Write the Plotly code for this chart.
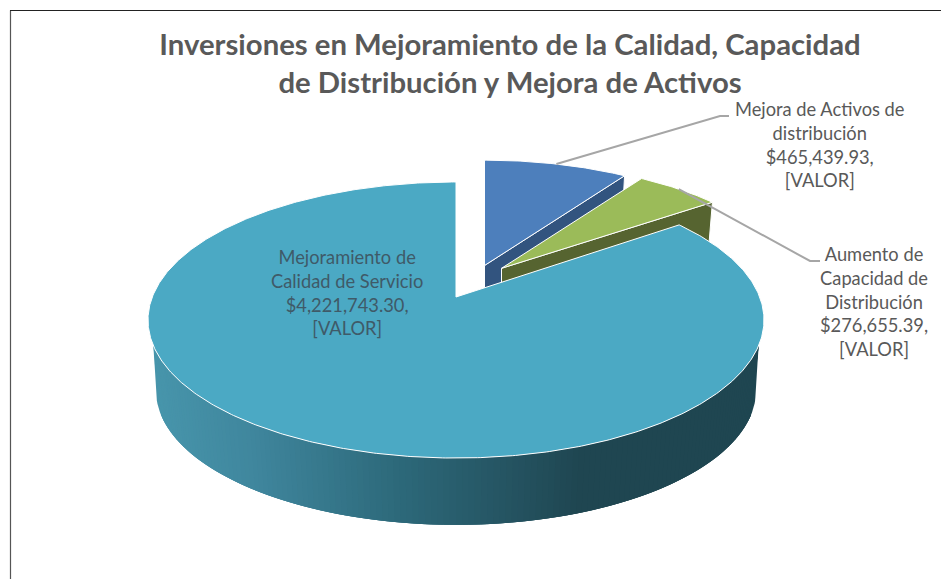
import numpy as np
import plotly.graph_objects as go

# ---- data ----
categories = ["Mejora de Activos de<br>distribución", "Aumento de<br>Capacidad de<br>Distribución", "Mejoramiento de<br>Calidad de Servicio"]
values = [465439.93, 276655.39, 4221743.30]
value_tag = "[VALOR]"
title_lines = ["Inversiones en Mejoramiento de la Calidad, Capacidad", "de Distribución y Mejora de Activos"]

top_colors = ["#4d7fbc", "#9bbb59", "#4ba9c4"]
wall_colors = ["#32547f", "#566430"]
text_grey = "#595959"

# ---- projection of the tilted pie ----
K = 0.1667
A = 303.7
B = 134.2
MAIN_APEX = (456.0, 297.0)
MAIN_APEX_LOW = (456.0, 368.0)
LOW_SCALE = 0.974
EXPL_SX, EXPL_SY = 0.945, 0.916
EXPL_APEX = [(484.5, 265.5), (501.5, 268.3)]
EXPL_DEPTH = 65.0


def rim(theta_deg, apex, sx=1.0, sy=1.0):
    t = np.radians(theta_deg)
    X, Y = np.sin(t), np.cos(t)
    w = 1 + K * Y
    return apex[0] + sx * A * X / w, apex[1] - sy * B * Y / w


total = sum(values)
edges = np.concatenate([[0], np.cumsum(values) / total * 360])

fig = go.Figure()


def poly(xs, ys, fill, line="white", lw=1.0):
    fig.add_trace(go.Scatter(x=list(xs), y=list(ys), mode="lines", fill="toself", fillcolor=fill,
                             line=dict(color=line, width=lw), hoverinfo="skip", showlegend=False))


def wedge(a0, a1, apex, sx, sy, color):
    th = np.linspace(a0, a1, max(8, int(a1 - a0) * 2))
    x, y = rim(th, apex, sx, sy)
    poly(np.r_[apex[0], x, apex[0]], np.r_[apex[1], y, apex[1]], color)


def edge_wall(theta, apex, color):
    low = (apex[0], apex[1] + EXPL_DEPTH)
    x0, y0 = rim(theta, apex, EXPL_SX, EXPL_SY)
    x1, y1 = rim(theta, low, EXPL_SX * LOW_SCALE, EXPL_SY * LOW_SCALE)
    poly([apex[0], x0, x1, low[0], apex[0]], [apex[1], y0, y1, low[1], apex[1]], color)


# exploded slices: wall first, then top face
edge_wall(edges[1], EXPL_APEX[0], wall_colors[0])
wedge(edges[0], edges[1], EXPL_APEX[0], EXPL_SX, EXPL_SY, top_colors[0])
edge_wall(edges[2], EXPL_APEX[1], wall_colors[1])
wedge(edges[1], edges[2], EXPL_APEX[1], EXPL_SX, EXPL_SY, top_colors[1])

# main slice: shaded outer wall
shade_x = [150, 250, 400, 500, 585, 770]
shade_r = [72, 64, 45, 38, 31, 31]
shade_g = [150, 135, 105, 86, 70, 70]
shade_b = [172, 158, 122, 100, 81, 81]


def shade(x):
    return "rgb(%d,%d,%d)" % (np.interp(x, shade_x, shade_r), np.interp(x, shade_x, shade_g), np.interp(x, shade_x, shade_b))


SIL_TOP, SIL_LOW = 110.0, 99.4  # silhouette angles on the top and bottom rims (from the front-right side)
# end caps between the two silhouette angles
for a_top, a_low in [(SIL_TOP, SIL_LOW), (360 - SIL_TOP, 360 - SIL_LOW)]:
    lows = np.linspace(a_low, a_top + (1 if a_top < 180 else -1) * 2, 12)
    xl, yl = rim(lows, MAIN_APEX_LOW, LOW_SCALE, LOW_SCALE)
    xt, yt = rim(a_top + (1 if a_top < 180 else -1) * 2, MAIN_APEX)
    xs, ys = rim(a_top, MAIN_APEX)
    c = shade(float(np.mean(xl)))
    poly(np.r_[xs, xl, xt, xs], np.r_[ys, yl, yt, ys], c, line=c, lw=0)

# strips run left to right, each overlapping the next to hide seams
th = np.linspace(360 - SIL_TOP, SIL_TOP, 141)
for i in range(len(th) - 1):
    a, b = th[i], th[i + 1]
    bb = max(b - 2.0, SIL_TOP)
    tha = np.linspace(a, bb, 5)
    xt, yt = rim(tha, MAIN_APEX)
    xl, yl = rim(tha[::-1], MAIN_APEX_LOW, LOW_SCALE, LOW_SCALE)
    c = shade(float(rim((a + b) / 2, MAIN_APEX)[0]))
    poly(np.r_[xt, xl, xt[0]], np.r_[yt, yl, yt[0]], c, line=c, lw=0)

wedge(edges[2], edges[3], MAIN_APEX, 1, 1, top_colors[2])

# leader lines from the slices' mid angles
leader_ends = [[(720, 116), (729, 116)], [(810, 261), (820, 261)]]
for i in range(2):
    mid = (edges[i] + edges[i + 1]) / 2
    x0, y0 = rim(mid, EXPL_APEX[i], EXPL_SX, EXPL_SY)
    pts = [(x0, y0)] + leader_ends[i]
    fig.add_trace(go.Scatter(x=[p[0] for p in pts], y=[p[1] for p in pts], mode="lines",
                             line=dict(color="#a6a6a6", width=2), hoverinfo="skip", showlegend=False))


def label(i):
    return f"{categories[i]}<br>${values[i]:,.2f},<br>{value_tag}"


label_pos = [(819, 144), (874, 301), (347, 292.5)]
label_col = [text_grey, text_grey, "#3f5a68"]
annotations = [dict(x=p[0], y=p[1], text=label(i), showarrow=False, xanchor="center", yanchor="middle",
                    font=dict(family="Lato", size=18.3, color=label_col[i]), align="center")
               for i, p in enumerate(label_pos)]

fig.update_layout(
    width=941, height=579, margin=dict(l=0, r=0, t=0, b=0),
    paper_bgcolor="white", plot_bgcolor="white",
    xaxis=dict(range=[0, 941], visible=False, fixedrange=True),
    yaxis=dict(range=[579, 0], visible=False, fixedrange=True),
    title=dict(text="<b>" + "<br>".join(title_lines) + "</b>", x=510 / 941, xanchor="center",
               y=1 - 55 / 579, yanchor="top",
               font=dict(family="Lato", size=29.3, color=text_grey)),
    annotations=annotations,
    shapes=[dict(type="line", xref="x", yref="y", x0=10.5, x1=10.5, y0=10.5, y1=579, line=dict(color="#555555", width=1.2)),
            dict(type="line", xref="x", yref="y", x0=10, x1=941, y0=10.5, y1=10.5, line=dict(color="#222222", width=1.2))],
)

fig.write_html("out.html", post_script="document.body.style.margin='0';", config={"displayModeBar": False})
